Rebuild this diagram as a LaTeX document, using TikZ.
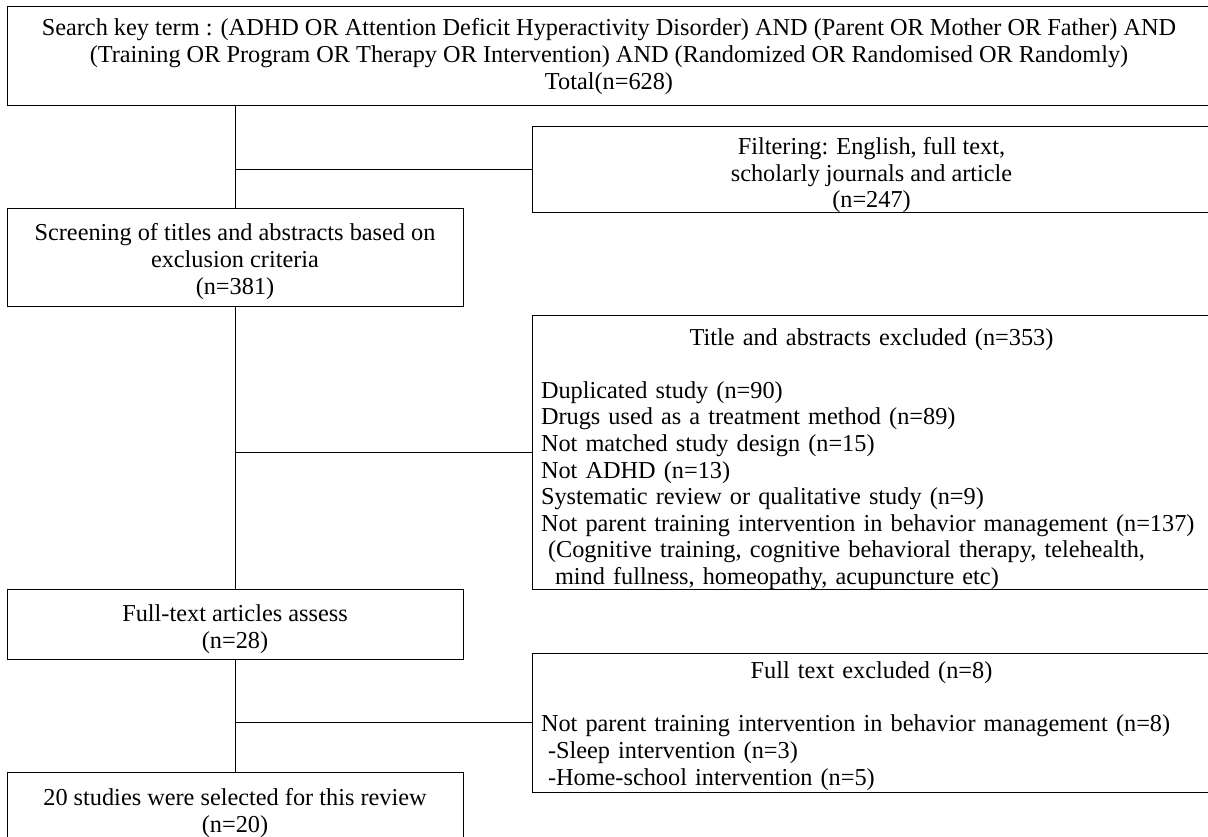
\documentclass[tikz,border=0pt]{standalone}
\usepackage{fontspec}
\setmainfont{Liberation Serif}
\usepackage{tikz}
\newcommand{\padtop}[1]{\rule{0pt}{#1}}
\tikzstyle{record}=[rectangle,draw=black,line width=1pt,inner sep=0pt,align=center,font=\fontsize{24.3}{26.6}\selectfont]
\tikzstyle{mainbox}=[record,minimum width=456pt]
\tikzstyle{sidebox}=[record,minimum width=679pt]
\tikzstyle{listbox}=[sidebox,text width=661pt,align=left]

\begin{document}
\begin{tikzpicture}[x=1pt,y=1pt]
  \useasboundingbox (0,0) rectangle (1208,-837);
  \node [record, minimum width=1204pt, minimum height=99pt] (search) at (609,-56.5)
    {Search key term : (ADHD OR Attention Deficit Hyperactivity Disorder) AND (Parent OR Mother OR Father) AND\\
     (Training OR Program OR Therapy OR Intervention) AND (Randomized OR Randomised OR Randomly)\\
     Total(n=628)};
  \node [mainbox, minimum height=97pt] (screen) at (235,-257.5)
    {\padtop{25pt}Screening of titles and abstracts based on\\ exclusion criteria\\ (n=381)};
  \node [mainbox, minimum height=70pt] (fulltext) [below of=screen, node distance=366.5pt]
    {\padtop{27pt}Full-text articles assess\\ (n=28)};
  \node [mainbox, minimum height=82pt] (final) [below of=fulltext, node distance=189pt]
    {20 studies were selected for this review\\ (n=20)};

  \node [sidebox, minimum height=86pt] (filter) at (871.5,-170)
    {\raisebox{-6pt}[\height][\depth]{\begin{tabular}{@{}c@{}}Filtering: English, full text,\\ scholarly journals and article\\ (n=247)\end{tabular}}};
  \node [listbox, minimum height=273pt] (titleex) [below of=filter, node distance=282.5pt]
    {\noindent\padtop{30pt}\hfill Title and abstracts excluded (n=353)\hfill\mbox{}\\
     \mbox{}\\
     Duplicated study (n=90)\\
     Drugs used as a treatment method (n=89)\\
     Not matched study design (n=15)\\
     Not ADHD (n=13)\\
     Systematic review or qualitative study (n=9)\\
     Not parent training intervention in behavior management (n=137)\\
     \hspace*{7pt}(Cognitive training, cognitive behavioral therapy, telehealth,\\
     \hspace*{14pt}mind fullness, homeopathy, acupuncture etc)};
  \node [listbox, minimum height=139pt] (fullex) [below of=titleex, node distance=270pt]
    {\noindent\padtop{24pt}\hfill Full text excluded (n=8)\hfill\mbox{}\\
     \mbox{}\\
     Not parent training intervention in behavior management (n=8)\\
     \hspace*{7pt}-Sleep intervention (n=3)\\
     \hspace*{7pt}-Home-school intervention (n=5)};

  % trunk
  \draw [line width=1pt] (search.south -| screen.north) -- (screen.north);
  \draw [line width=1pt] (screen.south) -- (fulltext.north);
  \draw [line width=1pt] (fulltext.south) -- (final.north);
  % branches
  \draw [line width=1pt] (screen.north |- filter.west) -- (filter.west);
  \draw [line width=1pt] (screen.south |- titleex.west) -- (titleex.west);
  \draw [line width=1pt] (fulltext.south |- fullex.west) -- (fullex.west);
\end{tikzpicture}
\end{document}
